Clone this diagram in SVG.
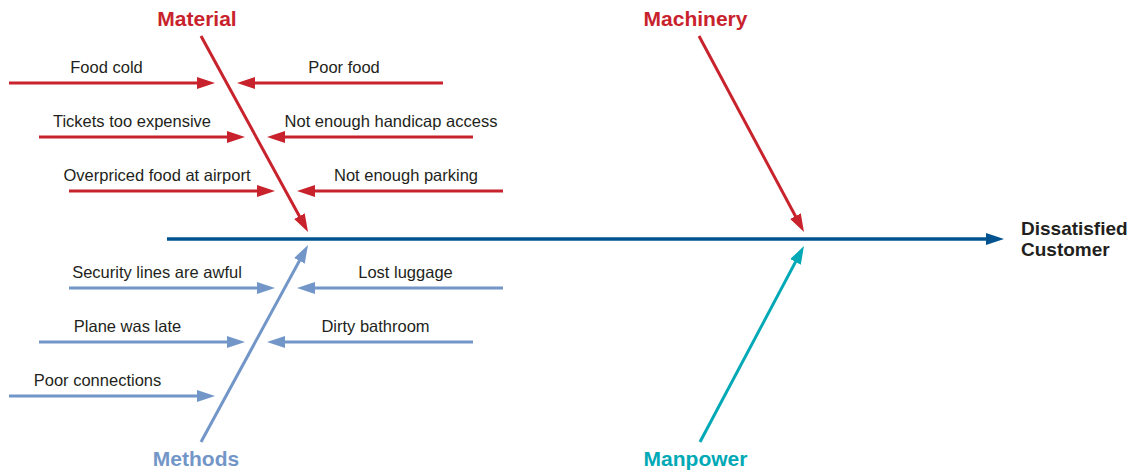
<svg xmlns="http://www.w3.org/2000/svg" width="1130" height="470" viewBox="0 0 1130 470">
<style>
text{font-family:"Liberation Sans",Arial,sans-serif}
.cat{font-size:21px;font-weight:bold;text-anchor:middle}
.sub{font-size:16.5px;fill:#231F20;text-anchor:middle}
.eff{font-size:19px;font-weight:bold;fill:#231F20}
.r{stroke:#C8232C;stroke-width:3;fill:none}
.b{stroke:#7396C8;stroke-width:3;fill:none}
.t{stroke:#00A9B5;stroke-width:3;fill:none}
.s{stroke:#00538F;stroke-width:3.5;fill:none}
</style>
<defs>
<marker id="ar" viewBox="0 0 18 12" refX="10" refY="6" markerWidth="18" markerHeight="12" markerUnits="userSpaceOnUse" orient="auto"><path d="M0,0 L18,6 L0,12 z" fill="#C8232C"/></marker>
<marker id="ab" viewBox="0 0 18 12" refX="10" refY="6" markerWidth="18" markerHeight="12" markerUnits="userSpaceOnUse" orient="auto"><path d="M0,0 L18,6 L0,12 z" fill="#7396C8"/></marker>
<marker id="at" viewBox="0 0 18 12" refX="10" refY="6" markerWidth="18" markerHeight="12" markerUnits="userSpaceOnUse" orient="auto"><path d="M0,0 L18,6 L0,12 z" fill="#00A9B5"/></marker>
<marker id="as" viewBox="0 0 18 12" refX="10" refY="6" markerWidth="18" markerHeight="12" markerUnits="userSpaceOnUse" orient="auto"><path d="M0,0 L18,6 L0,12 z" fill="#00538F"/></marker>
</defs>
<g id="connectors">
<line class="s" x1="167" y1="239" x2="996" y2="239" marker-end="url(#as)"/>
<line class="r" x1="201" y1="36" x2="304.2" y2="225" marker-end="url(#ar)"/>
<line class="r" x1="699" y1="36" x2="800.2" y2="225" marker-end="url(#ar)"/>
<line class="t" x1="700" y1="442" x2="800.2" y2="253.1" marker-end="url(#at)"/>
<line class="b" x1="201" y1="442" x2="304.2" y2="252" marker-end="url(#ab)"/>
<line class="r" x1="9" y1="83" x2="207" y2="83" marker-end="url(#ar)"/>
<line class="r" x1="443" y1="83" x2="245" y2="83" marker-end="url(#ar)"/>
<line class="r" x1="39" y1="137" x2="237" y2="137" marker-end="url(#ar)"/>
<line class="r" x1="473" y1="137" x2="275" y2="137" marker-end="url(#ar)"/>
<line class="r" x1="69" y1="191" x2="267" y2="191" marker-end="url(#ar)"/>
<line class="r" x1="503" y1="191" x2="305" y2="191" marker-end="url(#ar)"/>
<line class="b" x1="69" y1="288" x2="267" y2="288" marker-end="url(#ab)"/>
<line class="b" x1="503" y1="288" x2="305" y2="288" marker-end="url(#ab)"/>
<line class="b" x1="39" y1="342" x2="237" y2="342" marker-end="url(#ab)"/>
<line class="b" x1="473" y1="342" x2="275" y2="342" marker-end="url(#ab)"/>
<line class="b" x1="9" y1="396" x2="207" y2="396" marker-end="url(#ab)"/>
</g>
<g id="material"><text class="cat" x="197" y="26" fill="#C8232C">Material</text></g>
<g id="machinery"><text class="cat" x="695.5" y="26" fill="#C8232C">Machinery</text></g>
<g id="methods"><text class="cat" x="196" y="466" fill="#7396C8">Methods</text></g>
<g id="manpower"><text class="cat" x="695.5" y="466" fill="#00A9B5">Manpower</text></g>
<g id="effect"><text class="eff" x="1021" y="235">Dissatisfied</text><text class="eff" x="1021" y="256">Customer</text></g>
<g id="food-cold"><text class="sub" x="106.5" y="73">Food cold</text></g>
<g id="poor-food"><text class="sub" x="344" y="73">Poor food</text></g>
<g id="tickets"><text class="sub" x="132" y="127">Tickets too expensive</text></g>
<g id="handicap"><text class="sub" x="391" y="127">Not enough handicap access</text></g>
<g id="overpriced"><text class="sub" x="157" y="181">Overpriced food at airport</text></g>
<g id="parking"><text class="sub" x="406" y="181">Not enough parking</text></g>
<g id="security"><text class="sub" x="157" y="278">Security lines are awful</text></g>
<g id="luggage"><text class="sub" x="405.5" y="278">Lost luggage</text></g>
<g id="late"><text class="sub" x="127.5" y="332">Plane was late</text></g>
<g id="bathroom"><text class="sub" x="375.5" y="332">Dirty bathroom</text></g>
<g id="connections"><text class="sub" x="97.5" y="386">Poor connections</text></g>
</svg>
